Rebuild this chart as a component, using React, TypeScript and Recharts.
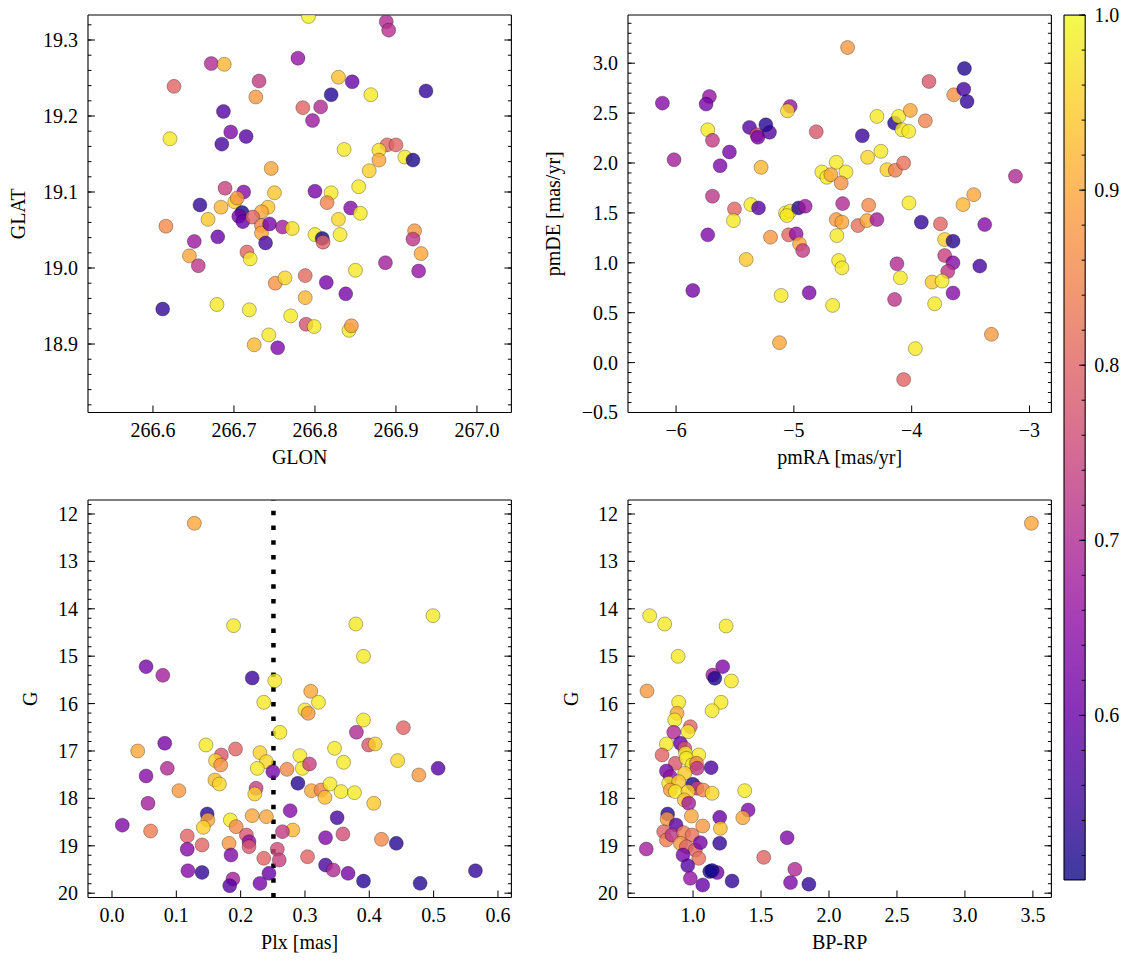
import React from 'react'
import { ScatterChart, Scatter, XAxis, YAxis, ReferenceLine, BarChart, Bar } from 'recharts'

const FONT = "'Liberation Serif', 'DejaVu Serif', serif"
const FS = 20
const THIN = 0.01 // axes take (almost) no room, margins place the box

// membership probability colour scale
const VMIN = 0.506
const VMAX = 1.0
const PLASMA = ['#0d0887', '#41049d', '#6a00a8', '#8f0da4', '#b12a90', '#cc4778', '#e16462', '#f2844b', '#fca636', '#fcce25', '#f0f921']

// GLON / GLAT panel
const glon = [266.792, 266.888, 266.891, 266.672, 266.688, 266.779, 266.626, 266.731, 266.727, 266.829, 266.846, 266.82, 266.869, 266.937, 266.687, 266.785, 266.807, 266.797, 266.621, 266.696, 266.715, 266.685, 266.836, 266.889, 266.9, 266.879, 266.879, 266.911, 266.921, 266.746, 266.867, 266.75, 266.854, 266.689, 266.712, 266.8, 266.82, 266.815, 266.844, 266.856, 266.658, 266.684, 266.701, 266.704, 266.71, 266.742, 266.734, 266.668, 266.616, 266.651, 266.68, 266.645, 266.656, 266.706, 266.711, 266.723, 266.734, 266.734, 266.744, 266.76, 266.772, 266.739, 266.716, 266.72, 266.8, 266.809, 266.81, 266.829, 266.831, 266.923, 266.921, 266.931, 266.887, 266.928, 266.85, 266.751, 266.763, 266.788, 266.814, 266.838, 266.612, 266.679, 266.719, 266.788, 266.77, 266.789, 266.799, 266.842, 266.845, 266.743, 266.725, 266.754]
const glat = [19.331, 19.324, 19.313, 19.269, 19.268, 19.276, 19.239, 19.246, 19.225, 19.251, 19.245, 19.228, 19.228, 19.233, 19.206, 19.211, 19.212, 19.194, 19.17, 19.179, 19.173, 19.163, 19.156, 19.162, 19.162, 19.155, 19.142, 19.146, 19.142, 19.131, 19.128, 19.099, 19.107, 19.105, 19.1, 19.101, 19.099, 19.086, 19.079, 19.072, 19.083, 19.08, 19.087, 19.092, 19.073, 19.08, 19.074, 19.064, 19.055, 19.035, 19.041, 19.016, 19.003, 19.068, 19.061, 19.067, 19.056, 19.046, 19.058, 19.054, 19.052, 19.033, 19.021, 19.012, 19.044, 19.039, 19.034, 19.064, 19.044, 19.049, 19.038, 19.019, 19.007, 18.996, 18.997, 18.98, 18.987, 18.99, 18.981, 18.966, 18.946, 18.952, 18.945, 18.961, 18.937, 18.926, 18.923, 18.918, 18.924, 18.912, 18.899, 18.895]
const probPos = [0.99, 0.7, 0.71, 0.7, 0.92, 0.66, 0.8, 0.73, 0.88, 0.93, 0.6, 0.53, 0.98, 0.54, 0.58, 0.8, 0.7, 0.67, 0.98, 0.63, 0.58, 0.56, 0.98, 0.8, 0.8, 0.97, 0.9, 0.98, 0.52, 0.9, 0.95, 0.94, 0.98, 0.74, 0.64, 0.62, 0.98, 0.85, 0.64, 0.98, 0.54, 0.92, 0.95, 0.88, 0.51, 0.94, 0.9, 0.94, 0.86, 0.67, 0.6, 0.9, 0.72, 0.62, 0.6, 0.8, 0.85, 0.9, 0.62, 0.68, 0.97, 0.56, 0.8, 0.98, 0.98, 0.51, 0.8, 0.96, 0.98, 0.88, 0.72, 0.9, 0.68, 0.66, 0.98, 0.87, 0.96, 0.81, 0.62, 0.62, 0.54, 0.98, 0.98, 0.92, 0.98, 0.77, 0.98, 0.98, 0.88, 0.98, 0.92, 0.63]

// proper motion panel
const pmra = [-4.544, -3.552, -3.853, -3.643, -3.558, -3.53, -6.116, -5.717, -5.745, -5.031, -5.054, -5.731, -5.691, -6.017, -5.626, -5.547, -5.377, -5.314, -5.306, -5.207, -5.238, -5.278, -4.81, -4.419, -4.295, -4.145, -4.11, -4.082, -4.025, -4.011, -3.884, -4.261, -4.374, -4.64, -4.558, -4.762, -4.72, -4.686, -4.598, -4.21, -4.139, -4.068, -3.119, -3.473, -3.564, -4.023, -4.365, -4.586, -5.691, -5.504, -5.365, -5.3, -5.071, -5.031, -4.96, -4.904, -5.513, -5.731, -5.405, -5.198, -5.059, -5.045, -4.98, -4.952, -4.925, -4.64, -4.592, -4.635, -4.62, -4.592, -4.456, -4.38, -4.295, -3.918, -3.756, -3.38, -3.72, -3.649, -3.72, -3.649, -3.694, -3.422, -4.125, -4.096, -3.827, -3.742, -3.649, -3.805, -4.145, -5.858, -5.108, -4.87, -4.671, -5.122, -3.969, -3.323, -4.068]
const pmde = [3.157, 2.947, 2.817, 2.683, 2.74, 2.617, 2.6, 2.667, 2.59, 2.567, 2.523, 2.333, 2.227, 2.033, 1.973, 2.11, 2.357, 2.283, 2.257, 2.307, 2.383, 1.957, 2.313, 2.273, 2.467, 2.4, 2.467, 2.333, 2.317, 2.527, 2.423, 2.117, 2.057, 2.007, 1.91, 1.91, 1.857, 1.883, 1.8, 1.933, 1.927, 2.0, 1.867, 1.683, 1.583, 1.6, 1.577, 1.593, 1.667, 1.54, 1.583, 1.55, 1.5, 1.517, 1.55, 1.567, 1.423, 1.28, 1.033, 1.257, 1.473, 1.28, 1.29, 1.19, 1.123, 1.433, 1.407, 1.273, 1.023, 0.95, 1.373, 1.423, 1.433, 1.407, 1.39, 1.383, 1.233, 1.217, 1.073, 1.0, 0.913, 0.967, 0.99, 0.85, 0.807, 0.817, 0.697, 0.59, 0.633, 0.723, 0.673, 0.7, 0.573, 0.2, 0.14, 0.283, -0.17]
const probPm = [0.88, 0.53, 0.78, 0.87, 0.56, 0.54, 0.64, 0.66, 0.62, 0.66, 0.96, 0.98, 0.73, 0.68, 0.63, 0.62, 0.58, 0.75, 0.62, 0.58, 0.53, 0.92, 0.78, 0.55, 0.98, 0.53, 0.98, 0.98, 0.98, 0.9, 0.85, 0.98, 0.96, 0.98, 0.98, 0.98, 0.98, 0.9, 0.87, 0.95, 0.84, 0.82, 0.7, 0.9, 0.92, 0.98, 0.86, 0.7, 0.72, 0.8, 0.98, 0.58, 0.98, 0.98, 0.53, 0.67, 0.98, 0.63, 0.94, 0.88, 0.98, 0.8, 0.66, 0.9, 0.73, 0.88, 0.9, 0.98, 0.98, 0.98, 0.82, 0.9, 0.68, 0.54, 0.8, 0.64, 0.95, 0.53, 0.74, 0.64, 0.72, 0.56, 0.7, 0.98, 0.94, 0.98, 0.64, 0.98, 0.72, 0.62, 0.98, 0.63, 0.98, 0.9, 0.98, 0.88, 0.8]

// parallax / magnitude panel
const plx = [0.128, 0.189, 0.379, 0.499, 0.391, 0.053, 0.079, 0.218, 0.253, 0.309, 0.321, 0.236, 0.3, 0.305, 0.391, 0.38, 0.453, 0.261, 0.399, 0.409, 0.082, 0.04, 0.146, 0.192, 0.17, 0.161, 0.169, 0.23, 0.24, 0.226, 0.25, 0.272, 0.292, 0.296, 0.307, 0.346, 0.36, 0.444, 0.477, 0.507, 0.053, 0.086, 0.104, 0.16, 0.167, 0.224, 0.222, 0.289, 0.31, 0.325, 0.331, 0.339, 0.356, 0.377, 0.407, 0.056, 0.016, 0.06, 0.148, 0.149, 0.142, 0.184, 0.193, 0.218, 0.24, 0.277, 0.281, 0.265, 0.35, 0.359, 0.332, 0.419, 0.442, 0.117, 0.117, 0.14, 0.182, 0.209, 0.213, 0.213, 0.185, 0.236, 0.257, 0.26, 0.304, 0.332, 0.344, 0.367, 0.391, 0.479, 0.565, 0.118, 0.14, 0.188, 0.183, 0.23, 0.244]
const gPlx = [12.197, 14.356, 14.321, 14.145, 15.003, 15.221, 15.404, 15.46, 15.516, 15.741, 15.973, 15.973, 16.135, 16.205, 16.346, 16.606, 16.508, 16.606, 16.873, 16.852, 16.838, 17.0, 16.873, 16.958, 17.084, 17.203, 17.295, 17.035, 17.225, 17.366, 17.436, 17.387, 17.098, 17.366, 17.274, 16.944, 17.239, 17.203, 17.506, 17.366, 17.527, 17.366, 17.837, 17.612, 17.696, 17.787, 17.907, 17.682, 17.837, 17.823, 17.978, 17.696, 17.857, 17.879, 18.104, 18.104, 18.565, 18.688, 18.329, 18.456, 18.611, 18.456, 18.597, 18.364, 18.385, 18.259, 18.667, 18.702, 18.407, 18.751, 18.829, 18.864, 18.949, 18.793, 19.074, 18.983, 18.949, 18.773, 18.914, 19.019, 19.194, 19.265, 19.074, 19.3, 19.23, 19.406, 19.511, 19.582, 19.744, 19.793, 19.526, 19.526, 19.562, 19.702, 19.843, 19.794, 19.582]
const probPlx = [0.9, 0.98, 0.98, 0.98, 0.98, 0.62, 0.68, 0.55, 0.98, 0.9, 0.98, 0.98, 0.98, 0.88, 0.98, 0.7, 0.8, 0.98, 0.78, 0.95, 0.62, 0.9, 0.98, 0.8, 0.78, 0.95, 0.87, 0.95, 0.96, 0.98, 0.62, 0.86, 0.98, 0.98, 0.74, 0.98, 0.98, 0.96, 0.88, 0.58, 0.64, 0.7, 0.88, 0.93, 0.96, 0.74, 0.95, 0.53, 0.9, 0.85, 0.93, 0.98, 0.98, 0.98, 0.94, 0.68, 0.63, 0.84, 0.53, 0.9, 0.95, 0.98, 0.86, 0.9, 0.9, 0.64, 0.92, 0.73, 0.56, 0.76, 0.63, 0.86, 0.53, 0.8, 0.64, 0.8, 0.88, 0.78, 0.65, 0.78, 0.63, 0.8, 0.76, 0.74, 0.8, 0.56, 0.7, 0.62, 0.53, 0.53, 0.54, 0.64, 0.54, 0.68, 0.58, 0.62, 0.6]
const PLX_CUT = 0.251

// colour-magnitude panel
const bprp = [3.489, 0.681, 0.791, 1.243, 0.89, 1.218, 1.145, 1.16, 1.282, 0.661, 0.894, 1.206, 1.14, 0.882, 0.865, 0.98, 0.963, 0.858, 0.804, 0.772, 0.907, 0.939, 0.944, 1.042, 0.87, 0.951, 0.993, 1.025, 1.029, 1.133, 0.804, 0.833, 0.939, 0.821, 0.894, 0.833, 0.87, 0.998, 1.029, 1.074, 0.963, 1.14, 0.936, 0.968, 1.38, 1.405, 1.366, 0.813, 0.809, 0.875, 0.988, 1.071, 1.196, 1.201, 1.196, 0.784, 0.804, 0.845, 0.931, 0.993, 0.907, 0.951, 1.017, 1.054, 1.042, 0.656, 0.926, 0.961, 0.98, 1.071, 1.123, 1.177, 1.14, 1.287, 1.52, 1.692, 1.749, 1.717, 1.852]
const gCmd = [12.197, 14.145, 14.321, 14.363, 15.003, 15.221, 15.397, 15.467, 15.523, 15.734, 15.973, 15.973, 16.149, 16.205, 16.346, 16.487, 16.592, 16.606, 16.852, 17.084, 16.838, 16.944, 17.049, 17.084, 17.26, 17.155, 17.295, 17.26, 17.366, 17.352, 17.422, 17.542, 17.471, 17.682, 17.647, 17.823, 17.857, 17.703, 17.787, 17.823, 17.857, 17.893, 18.033, 18.104, 17.837, 18.245, 18.407, 18.329, 18.435, 18.56, 18.371, 18.582, 18.4, 18.632, 18.948, 18.702, 18.878, 18.772, 18.723, 18.772, 18.948, 19.019, 19.089, 18.934, 19.265, 19.068, 19.194, 19.419, 19.687, 19.828, 19.544, 19.565, 19.523, 19.744, 19.244, 18.829, 19.495, 19.776, 19.811]
const probCmd = [0.9, 0.98, 0.98, 0.98, 0.98, 0.63, 0.68, 0.52, 0.98, 0.88, 0.98, 0.98, 0.98, 0.9, 0.98, 0.8, 0.98, 0.7, 0.98, 0.8, 0.6, 0.77, 0.98, 0.98, 0.78, 0.98, 0.98, 0.85, 0.72, 0.57, 0.62, 0.66, 0.94, 0.98, 0.94, 0.88, 0.98, 0.52, 0.74, 0.86, 0.95, 0.96, 0.93, 0.68, 0.98, 0.63, 0.9, 0.53, 0.88, 0.58, 0.9, 0.88, 0.6, 0.93, 0.54, 0.8, 0.84, 0.72, 0.84, 0.82, 0.88, 0.8, 0.8, 0.62, 0.82, 0.68, 0.62, 0.58, 0.66, 0.6, 0.52, 0.62, 0.5, 0.54, 0.8, 0.63, 0.7, 0.63, 0.54]

// tick labels
const glonTicks = [266.6, 266.7, 266.8, 266.9, 267.0]
const glatTicks = [18.9, 19.0, 19.1, 19.2, 19.3]
const pmraTicks = [-6, -5, -4, -3]
const pmdeTicks = [-0.5, 0.0, 0.5, 1.0, 1.5, 2.0, 2.5, 3.0]
const plxTicks = [0.0, 0.1, 0.2, 0.3, 0.4, 0.5, 0.6]
const bprpTicks = [1.0, 1.5, 2.0, 2.5, 3.0, 3.5]
const gTicks = [12, 13, 14, 15, 16, 17, 18, 19, 20]
const cbTicks = [0.6, 0.7, 0.8, 0.9, 1.0]

type Pt = { x: number; y: number; p: number }
const zip = (xs: number[], ys: number[], ps: number[]): Pt[] => xs.map((x, i) => ({ x, y: ys[i], p: ps[i] }))

const hex = (h: string) => [1, 3, 5].map((i) => parseInt(h.slice(i, i + 2), 16))
function plasma(t: number) {
  const s = Math.min(1, Math.max(0, t)) * 10
  const i = Math.min(9, Math.floor(s))
  const f = s - i
  const a = hex(PLASMA[i])
  const b = hex(PLASMA[i + 1])
  return `rgb(${a.map((v, k) => Math.round(v + (b[k] - v) * f)).join(',')})`
}
const colorOf = (p: number) => plasma((p - VMIN) / (VMAX - VMIN))

function minor(lo: number, hi: number, step: number) {
  const out: number[] = []
  for (let k = Math.ceil(lo / step - 1e-9); k * step <= hi + 1e-9; k++) out.push(+(k * step).toFixed(6))
  return out
}
const sign = (v: number) => (v < 0 ? '\u2212' : '')
const fmt1 = (v: number) => sign(v) + Math.abs(v).toFixed(1)
const fmt0 = (v: number) => sign(v) + Math.abs(v).toFixed(0)

const Dot = (props: any) => (
  <circle cx={props.cx} cy={props.cy} r={7} fill={colorOf(props.payload.p)} fillOpacity={0.8}
    stroke="#000" strokeOpacity={0.5} strokeWidth={0.6} />
)

// inward tick mark (drawn by hand) plus optional label
type Side = 'b' | 't' | 'l' | 'r'
const tickMark = (side: Side, len: number, fmt?: (v: number) => string) => (props: any) => {
  const { x, y, payload } = props
  const x2 = side === 'l' ? x + len : side === 'r' ? x - len : x
  const y2 = side === 'b' ? y - len : side === 't' ? y + len : y
  const txt = { fill: '#000', fontSize: FS, fontFamily: FONT }
  return (
    <g>
      <line x1={x} y1={y} x2={x2} y2={y2} stroke="#000" strokeWidth={1} />
      {fmt && side === 'b' && <text x={x} y={y + 24.5} textAnchor="middle" {...txt}>{fmt(payload.value)}</text>}
      {fmt && side === 'l' && <text x={x - 10} y={y + 7} textAnchor="end" {...txt}>{fmt(payload.value)}</text>}
      {fmt && side === 'r' && <text x={x + 9} y={y + 7} textAnchor="start" {...txt}>{fmt(payload.value)}</text>}
    </g>
  )
}

const BOX_W = 423.4
const BOX_H = 397.5
const PAD = { top: 12, right: 14, bottom: 70, left: 92 }
const LINE = { stroke: '#000', strokeWidth: 1.1 }
const MAJ = 7
const MIN = 3.5

interface PanelProps {
  left: number; top: number; pts: Pt[]
  xDomain: [number, number]; yDomain: [number, number]
  xTicks: number[]; yTicks: number[]; xMinor: number[]; yMinor: number[]
  xFmt: (v: number) => string; yFmt: (v: number) => string
  xLabel: string; yLabel: string; yLabelOffset: number
  reversed?: boolean; refX?: number
}

function Panel(p: PanelProps) {
  const xCommon = { type: 'number' as const, domain: p.xDomain, allowDataOverflow: true, interval: 0 as const, height: THIN, tickSize: 0, tickMargin: 0, tickLine: false }
  const yCommon = { type: 'number' as const, domain: p.yDomain, allowDataOverflow: true, interval: 0 as const, width: THIN, reversed: !!p.reversed, tickSize: 0, tickMargin: 0, tickLine: false }
  const m = { top: PAD.top - 2 * THIN, right: PAD.right - 2 * THIN, bottom: PAD.bottom - 2 * THIN, left: PAD.left - 2 * THIN }
  return (
    <div style={{ position: 'absolute', left: p.left - PAD.left, top: p.top - PAD.top }}>
      <ScatterChart width={PAD.left + BOX_W + PAD.right} height={PAD.top + BOX_H + PAD.bottom} margin={m}>
        <XAxis xAxisId="b" dataKey="x" {...xCommon} ticks={p.xTicks} tick={tickMark('b', MAJ, p.xFmt)} axisLine={LINE}
          label={{ value: p.xLabel, position: 'bottom', offset: 37, fill: '#000', fontSize: FS, fontFamily: FONT }} />
        <XAxis xAxisId="bm" {...xCommon} ticks={p.xMinor} tick={tickMark('b', MIN)} axisLine={false} />
        <XAxis xAxisId="t" orientation="top" {...xCommon} ticks={p.xTicks} tick={tickMark('t', MAJ)} axisLine={LINE} />
        <XAxis xAxisId="tm" orientation="top" {...xCommon} ticks={p.xMinor} tick={tickMark('t', MIN)} axisLine={false} />
        <YAxis yAxisId="l" dataKey="y" {...yCommon} ticks={p.yTicks} tick={tickMark('l', MAJ, p.yFmt)} axisLine={LINE}
          label={{ value: p.yLabel, position: 'left', angle: -90, offset: p.yLabelOffset, textAnchor: 'middle', fill: '#000', fontSize: FS, fontFamily: FONT }} />
        <YAxis yAxisId="lm" {...yCommon} ticks={p.yMinor} tick={tickMark('l', MIN)} axisLine={false} />
        <YAxis yAxisId="r" orientation="right" {...yCommon} ticks={p.yTicks} tick={tickMark('r', MAJ)} axisLine={LINE} />
        <YAxis yAxisId="rm" orientation="right" {...yCommon} ticks={p.yMinor} tick={tickMark('r', MIN)} axisLine={false} />
        <Scatter data={p.pts} xAxisId="b" yAxisId="l" shape={Dot} isAnimationActive={false} />
        {p.refX !== undefined && (
          <ReferenceLine x={p.refX} xAxisId="b" yAxisId="l" stroke="#000" strokeWidth={4.5} strokeDasharray="4.5 10.2" />
        )}
      </ScatterChart>
    </div>
  )
}

const CB = { left: 1064.3, top: 15, w: 21.2, h: 865 }
const cbData = [{ name: 'p', range: [VMIN, VMAX] }]

function ColorBar() {
  const pad = { top: 12, right: 50, bottom: 12, left: 4 }
  const m = { top: pad.top - THIN, right: pad.right - 2 * THIN, bottom: pad.bottom - THIN, left: pad.left - THIN }
  const yCommon = { type: 'number' as const, domain: [VMIN, VMAX], allowDataOverflow: true, interval: 0 as const, width: THIN, tickSize: 0, tickMargin: 0, tickLine: false }
  return (
    <div style={{ position: 'absolute', left: CB.left - pad.left, top: CB.top - pad.top }}>
      <BarChart width={pad.left + CB.w + pad.right} height={pad.top + CB.h + pad.bottom} data={cbData} margin={m} barCategoryGap={0}>
        <defs>
          <linearGradient id="plasmaGrad" x1="0" y1="1" x2="0" y2="0">
            {PLASMA.map((c, i) => <stop key={c} offset={`${i * 10}%`} stopColor={c} />)}
          </linearGradient>
        </defs>
        <XAxis xAxisId="b" dataKey="name" height={THIN} tick={false} tickLine={false} axisLine={LINE} />
        <XAxis xAxisId="t" dataKey="name" orientation="top" height={THIN} tick={false} tickLine={false} axisLine={LINE} />
        <YAxis yAxisId="l" {...yCommon} tick={false} axisLine={LINE} />
        <YAxis yAxisId="r" orientation="right" {...yCommon} ticks={cbTicks} tick={tickMark('r', 6, fmt1)} axisLine={LINE} />
        <YAxis yAxisId="rm" orientation="right" {...yCommon} ticks={minor(0.52, 1.0, 0.02)} tick={tickMark('r', MIN)} axisLine={false} />
        <Bar dataKey="range" xAxisId="b" yAxisId="l" fill="url(#plasmaGrad)" fillOpacity={0.8} isAnimationActive={false} />
      </BarChart>
    </div>
  )
}

export default function App() {
  const gDomain: [number, number] = [11.705, 20.091]
  return (
    <div style={{ position: 'absolute', left: 0, top: 0, width: 1133, height: 965, background: '#fff', overflow: 'hidden', fontFamily: FONT }}>
      <Panel left={88.3} top={15} pts={zip(glon, glat, probPos)}
        xDomain={[266.5198, 267.0425]} yDomain={[18.8099, 19.3329]}
        xTicks={glonTicks} yTicks={glatTicks} xMinor={minor(266.52, 267.04, 0.02)} yMinor={minor(18.82, 19.33, 0.02)}
        xFmt={fmt1} yFmt={fmt1} xLabel="GLON" yLabel="GLAT" yLabelOffset={70} />
      <Panel left={627.7} top={15} pts={zip(pmra, pmde, probPm)}
        xDomain={[-6.408, -2.814]} yDomain={[-0.5, 3.483]}
        xTicks={pmraTicks} yTicks={pmdeTicks} xMinor={minor(-6.4, -2.82, 0.2)} yMinor={minor(-0.5, 3.48, 0.1)}
        xFmt={fmt0} yFmt={fmt1} xLabel="pmRA [mas/yr]" yLabel="pmDE [mas/yr]" yLabelOffset={75} />
      <Panel left={88.3} top={500} pts={zip(plx, gPlx, probPlx)}
        xDomain={[-0.0373, 0.6209]} yDomain={gDomain} reversed refX={PLX_CUT}
        xTicks={plxTicks} yTicks={gTicks} xMinor={minor(-0.036, 0.62, 0.02)} yMinor={minor(11.8, 20.08, 0.2)}
        xFmt={fmt1} yFmt={fmt0} xLabel="Plx [mas]" yLabel="G" yLabelOffset={58} />
      <Panel left={627.7} top={500} pts={zip(bprp, gCmd, probCmd)}
        xDomain={[0.5214, 3.636]} yDomain={gDomain} reversed
        xTicks={bprpTicks} yTicks={gTicks} xMinor={minor(0.6, 3.63, 0.1)} yMinor={minor(11.8, 20.08, 0.2)}
        xFmt={fmt1} yFmt={fmt0} xLabel="BP-RP" yLabel="G" yLabelOffset={57} />
      <ColorBar />
    </div>
  )
}
